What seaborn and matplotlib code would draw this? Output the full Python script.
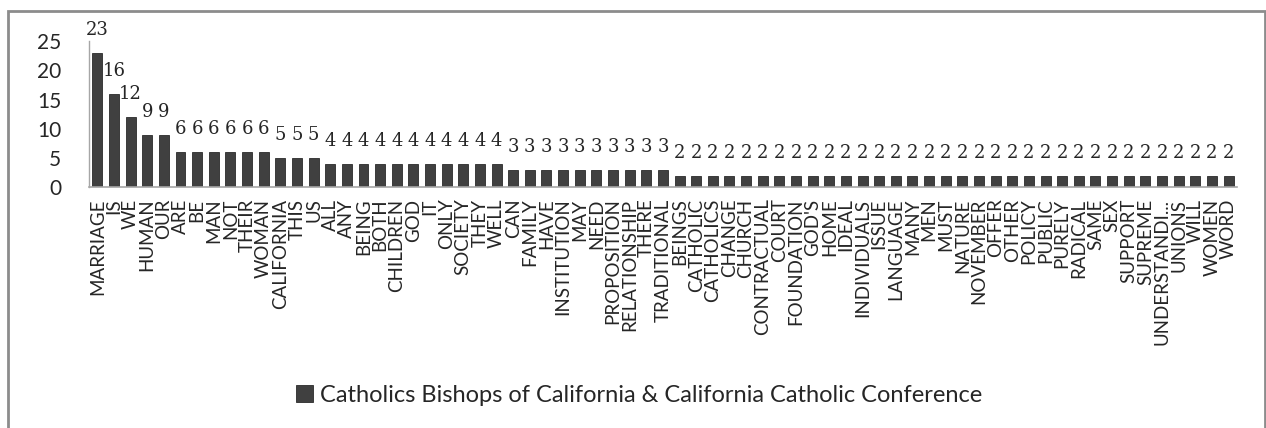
import pandas as pd
import matplotlib
matplotlib.use('Agg')
import matplotlib.pyplot as plt
import seaborn as sns
from matplotlib.patches import Rectangle

# word frequencies
words = ['MARRIAGE', 'IS', 'WE', 'HUMAN', 'OUR', 'ARE', 'BE', 'MAN', 'NOT', 'THEIR',
         'WOMAN', 'CALIFORNIA', 'THIS', 'US', 'ALL', 'ANY', 'BEING', 'BOTH', 'CHILDREN',
         'GOD', 'IT', 'ONLY', 'SOCIETY', 'THEY', 'WELL', 'CAN', 'FAMILY', 'HAVE',
         'INSTITUTION', 'MAY', 'NEED', 'PROPOSITION', 'RELATIONSHIP', 'THERE',
         'TRADITIONAL', 'BEINGS', 'CATHOLIC', 'CATHOLICS', 'CHANGE', 'CHURCH',
         'CONTRACTUAL', 'COURT', 'FOUNDATION', "GOD'S", 'HOME', 'IDEAL', 'INDIVIDUALS',
         'ISSUE', 'LANGUAGE', 'MANY', 'MEN', 'MUST', 'NATURE', 'NOVEMBER', 'OFFER',
         'OTHER', 'POLICY', 'PUBLIC', 'PURELY', 'RADICAL', 'SAME', 'SEX', 'SUPPORT',
         'SUPREME', 'UNDERSTANDI...', 'UNIONS', 'WILL', 'WOMEN', 'WORD']
counts = [23, 16, 12, 9, 9, 6, 6, 6, 6, 6,
          6, 5, 5, 5, 4, 4, 4, 4, 4,
          4, 4, 4, 4, 4, 4, 3, 3, 3,
          3, 3, 3, 3, 3, 3,
          3, 2, 2, 2, 2, 2,
          2, 2, 2, 2, 2, 2, 2,
          2, 2, 2, 2, 2, 2, 2, 2,
          2, 2, 2, 2, 2, 2, 2, 2,
          2, 2, 2, 2, 2, 2]
series_name = 'Catholics Bishops of California & California Catholic Conference'

df = pd.DataFrame({'word': words, 'count': counts})

sns.set_style('white')
plt.rcParams['font.family'] = ['Lato', 'DejaVu Sans']

fig = plt.figure(figsize=(12.66, 4.28), dpi=100)
ax = fig.add_axes([0.0703, 0.562, 0.9067, 0.342])

sns.barplot(data=df, x='word', y='count', color='#404040', width=0.6,
            edgecolor='#2b2b2b', linewidth=0.6, saturation=1, ax=ax)

# value labels
for i, v in enumerate(counts):
    ax.annotate(str(v), (i, v), xytext=(0, 10), textcoords='offset points',
                ha='center', va='bottom', fontsize=13, family='DejaVu Serif',
                annotation_clip=False)

ax.set_ylim(0, 25)
ax.set_xlim(-0.5, len(words) - 0.5)
ax.set_yticks([0, 5, 10, 15, 20, 25])
ax.tick_params(axis='y', length=0, pad=20, labelsize=15)
ax.tick_params(axis='x', length=0, pad=8, labelsize=13.5, rotation=90)
ax.set_xlabel('')
ax.set_ylabel('')
for s in ['top', 'right']:
    ax.spines[s].set_visible(False)
ax.spines['left'].set_color('#a6a6a6')
ax.spines['bottom'].set_color('#a6a6a6')
ax.spines['left'].set_linewidth(1)
ax.spines['bottom'].set_linewidth(1.2)

fig.legend([ax.patches[0]], [series_name], loc='center', bbox_to_anchor=(0.505, 0.077),
           frameon=False, fontsize=17, handlelength=0.7, handleheight=0.7,
           handletextpad=0.3)

# outer chart border
fig.patches.append(Rectangle((0.0065, -0.02), 0.9925, 0.994, transform=fig.transFigure,
                             fill=False, edgecolor='#8c8c8c', linewidth=2))

fig.savefig('out.png', dpi=100)
